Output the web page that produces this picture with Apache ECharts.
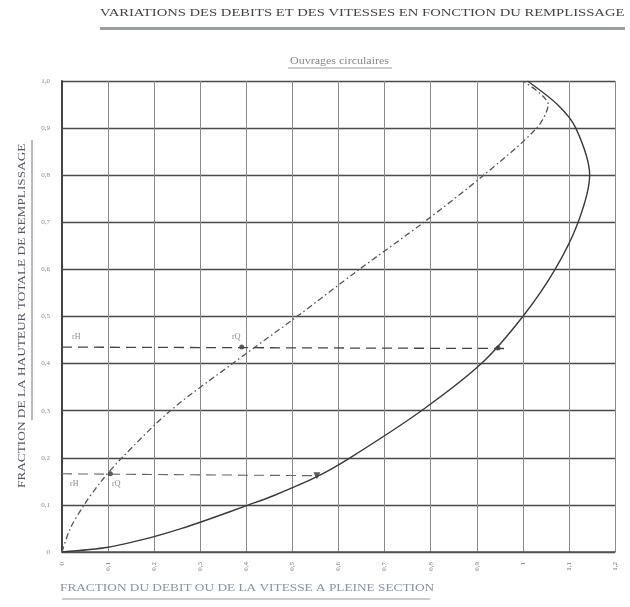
<!DOCTYPE html>
<html>
<head>
<meta charset="utf-8">
<script src="https://cdn.jsdelivr.net/npm/echarts@6/dist/echarts.min.js"></script>
<style>html,body{margin:0;padding:0;background:#fff;}#c{width:630px;height:607px;}</style>
</head>
<body>
<div id="c"></div>
<script>
// Fill ratio (y)
const velocityFill = [0, 0.01, 0.03, 0.05, 0.07, 0.1, 0.12, 0.16, 0.2, 0.3, 0.4, 0.5, 0.6, 0.7, 0.8, 0.9, 0.95, 1.0];
// Velocity fraction (solid curve)
const velocityFrac = [0, 0.1, 0.19, 0.26, 0.32, 0.405, 0.46, 0.553, 0.625, 0.78, 0.91, 1.0, 1.07, 1.12, 1.145, 1.115, 1.075, 1.01];

const dischargeFill = [0, 0.05, 0.1, 0.15, 0.2, 0.3, 0.4, 0.5, 0.6, 0.7, 0.8, 0.9, 0.95, 1.0];
// Discharge fraction (dash-dot curve)
const dischargeFrac = [0, 0.018, 0.048, 0.085, 0.13, 0.235, 0.37, 0.51, 0.645, 0.785, 0.915, 1.03, 1.055, 1.0];

// Example reading lines (dashed)
const upperRef = [[0, 0.435], [0.97, 0.432]];
const lowerRef = [[0, 0.166], [0.555, 0.162]];
const refPointsDischarge = [[0.39, 0.435], [0.105, 0.166]];
const refPointsVelocity = [[0.946, 0.433], [0.553, 0.162]];

const xTickLabels = ['0','0,1','0,2','0,3','0,4','0,5','0,6','0,7','0,8','0,9','1','1,1','1,2'];
const yTickLabels = ['0','0,1','0,2','0,3','0,4','0,5','0,6','0,7','0,8','0,9','1,0'];

const titleText = 'VARIATIONS DES DEBITS ET DES VITESSES EN FONCTION DU REMPLISSAGE';
const subtitleText = 'Ouvrages circulaires';
const xTitle = 'FRACTION DU DEBIT OU DE LA VITESSE A PLEINE SECTION';
const yTitle = 'FRACTION DE LA HAUTEUR TOTALE DE REMPLISSAGE';

const pair = (xs, ys) => xs.map((x, i) => [x, ys[i]]);

const chart = echarts.init(document.getElementById('c'), null, {renderer: 'canvas'});
const serif = '"Liberation Serif", "DejaVu Serif", serif';

chart.setOption({
  backgroundColor: '#ffffff',
  animation: false,
  grid: {left: 62, right: 15, top: 81, bottom: 55, containLabel: false},
  xAxis: {
    type: 'value', min: 0, max: 1.2, interval: 0.1,
    axisLine: {show: true, lineStyle: {color: '#555', width: 1.5}},
    axisTick: {show: false},
    splitLine: {show: true, lineStyle: {color: '#8a8a8a', width: 1}},
    axisLabel: {
      color: '#777', fontSize: 7, fontFamily: serif, rotate: 90, margin: 10,
      formatter: (v) => xTickLabels[Math.round(v * 10)] || ''
    }
  },
  yAxis: {
    type: 'value', min: 0, max: 1, interval: 0.1,
    axisLine: {show: true, lineStyle: {color: '#444', width: 2}},
    axisTick: {show: false},
    splitLine: {show: true, lineStyle: {color: '#4a4a4a', width: 1.4}},
    axisLabel: {
      color: '#888', fontSize: 7, fontFamily: serif, margin: 12,
      formatter: (v) => yTickLabels[Math.round(v * 10)] || ''
    }
  },
  series: [
    {
      name: 'vitesse', type: 'line', smooth: 0.3, symbol: 'none',
      data: pair(velocityFrac, velocityFill),
      lineStyle: {color: '#3a3a3a', width: 1.4}
    },
    {
      name: 'debit', type: 'line', smooth: 0.3, symbol: 'none',
      data: pair(dischargeFrac, dischargeFill),
      lineStyle: {color: '#555', width: 1.3, type: [6, 3, 1.5, 3]}
    },
    {
      name: 'ref1', type: 'line', symbol: 'none', data: upperRef,
      lineStyle: {color: '#444', width: 1.3, type: [10, 6]}
    },
    {
      name: 'ref2', type: 'line', symbol: 'none', data: lowerRef,
      lineStyle: {color: '#666', width: 1.1, type: [10, 6]}
    },
    {
      name: 'pts', type: 'scatter', symbol: 'circle', symbolSize: 5,
      data: refPointsDischarge.concat([refPointsVelocity[0]]),
      itemStyle: {color: '#333'}
    },
    {
      name: 'tri', type: 'scatter', symbol: 'triangle', symbolSize: 7, symbolRotate: 180,
      data: [refPointsVelocity[1]],
      itemStyle: {color: '#333'}
    }
  ],
  graphic: [
    {type: 'text', x: 100, y: 8, scaleX: 1.33, style: {text: titleText, font: '11px ' + serif, fill: '#444'}},
    {type: 'rect', shape: {x: 100, y: 27, width: 525, height: 3}, style: {fill: '#9aa09c'}},
    {type: 'text', x: 290, y: 56, scaleX: 1.2, style: {text: subtitleText, font: '10px ' + serif, fill: '#888'}},
    {type: 'line', shape: {x1: 288, y1: 68, x2: 392, y2: 68}, style: {stroke: '#999', lineWidth: 1}},
    {type: 'text', x: 60, y: 583, scaleX: 1.33, style: {text: xTitle, font: '10px ' + serif, fill: '#8894a0'}},
    {type: 'line', shape: {x1: 62, y1: 599, x2: 430, y2: 599}, style: {stroke: '#999', lineWidth: 1.2}},
    {type: 'text', x: 17, y: 488, rotation: Math.PI / 2, scaleX: 1.33,
      style: {text: yTitle, font: '10px ' + serif, fill: '#556'}},
    {type: 'line', shape: {x1: 32, y1: 140, x2: 32, y2: 420}, style: {stroke: '#777', lineWidth: 1}},
    {type: 'text', x: 72, y: 333, style: {text: 'rH', font: '8px ' + serif, fill: '#888'}},
    {type: 'text', x: 232, y: 333, style: {text: 'rQ', font: '8px ' + serif, fill: '#888'}},
    {type: 'text', x: 70, y: 480, style: {text: 'rH', font: '8px ' + serif, fill: '#888'}},
    {type: 'text', x: 112, y: 480, style: {text: 'rQ', font: '8px ' + serif, fill: '#888'}}
  ]
});
</script>
</body>
</html>
